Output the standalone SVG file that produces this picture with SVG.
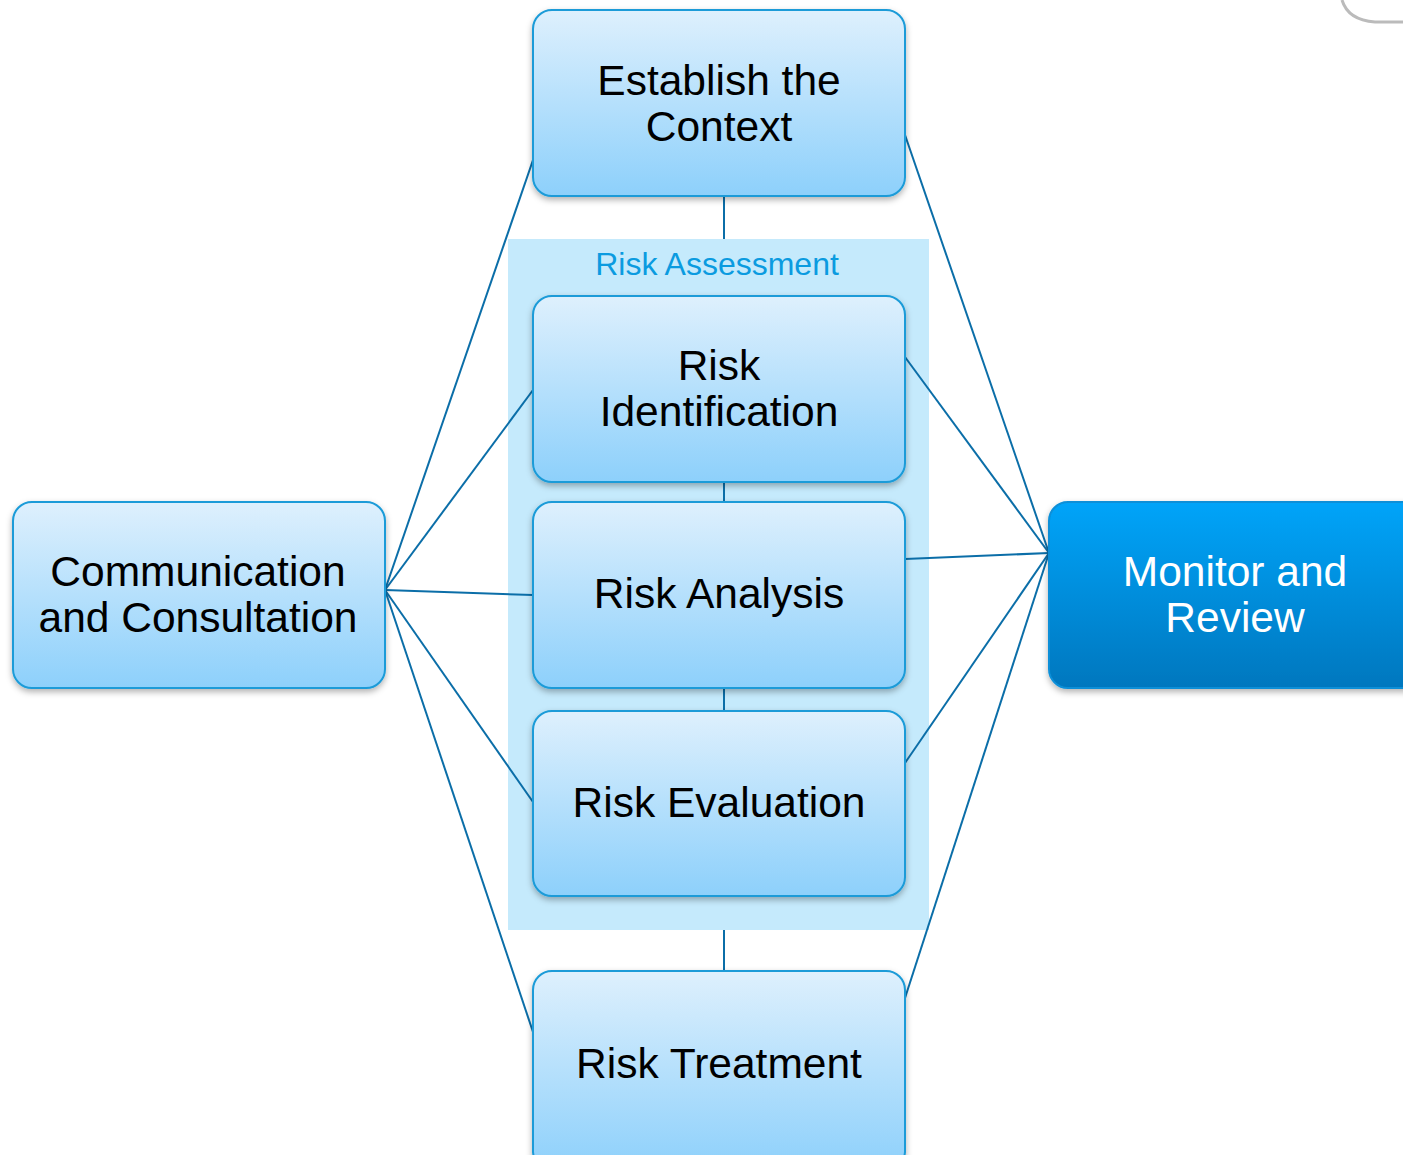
<svg xmlns="http://www.w3.org/2000/svg" width="1403" height="1155" viewBox="0 0 1403 1155">
<defs>
<linearGradient id="lg" x1="0" y1="0" x2="0" y2="1">
<stop offset="0" stop-color="#def0fd"/>
<stop offset="1" stop-color="#8dd0fb"/>
</linearGradient>
<linearGradient id="dg" x1="0" y1="0" x2="0" y2="1">
<stop offset="0" stop-color="#03a4f9"/>
<stop offset="1" stop-color="#0277be"/>
</linearGradient>
<filter id="sh" x="-10%" y="-10%" width="120%" height="130%">
<feDropShadow dx="0" dy="3" stdDeviation="3" flood-color="#000" flood-opacity="0.3"/>
</filter>
</defs>
<style>
.n{fill:url(#lg);stroke:#1a9bd8;stroke-width:2;filter:url(#sh)}
.d{fill:url(#dg);stroke:#0a8fd8;stroke-width:2;filter:url(#sh)}
.t{font-family:"Liberation Sans",Arial,sans-serif;font-size:42.5px;fill:#000;text-anchor:middle}
.w{fill:#fff}
.c line{stroke:#0b6ea8;stroke-width:2}
</style>
<rect width="1403" height="1155" fill="#fff"/>
<path d="M1342,0 Q1348,20 1375,22 L1403,22" fill="none" stroke="#bbb" stroke-width="3"/>
<g id="risk-assessment">
<rect x="508" y="239" width="421" height="691" fill="#c5eafc"/>
<text x="717" y="275" font-family="Liberation Sans,Arial,sans-serif" font-size="32" fill="#0b9be0" text-anchor="middle">Risk Assessment</text>
</g>
<g class="c" id="connectors">
<line x1="724" y1="196" x2="724" y2="239"/>
<line x1="724" y1="482" x2="724" y2="502"/>
<line x1="724" y1="688" x2="724" y2="711"/>
<line x1="724" y1="930" x2="724" y2="971"/>
<line x1="385" y1="590" x2="533" y2="160"/>
<line x1="385" y1="590" x2="533" y2="390"/>
<line x1="385" y1="590" x2="533" y2="595"/>
<line x1="385" y1="590" x2="533" y2="802"/>
<line x1="385" y1="590" x2="533" y2="1032"/>
<line x1="1049" y1="553" x2="905" y2="135"/>
<line x1="1049" y1="553" x2="905" y2="357"/>
<line x1="1049" y1="553" x2="905" y2="559"/>
<line x1="1049" y1="553" x2="905" y2="763"/>
<line x1="1049" y1="553" x2="905" y2="998"/>
</g>
<g id="establish">
<rect class="n" x="533" y="10" width="372" height="186" rx="19"/>
<text class="t" x="719" y="95">Establish the</text>
<text class="t" x="719" y="141">Context</text>
</g>
<g id="identification">
<rect class="n" x="533" y="296" width="372" height="186" rx="19"/>
<text class="t" x="719" y="380">Risk</text>
<text class="t" x="719" y="426">Identification</text>
</g>
<g id="analysis">
<rect class="n" x="533" y="502" width="372" height="186" rx="19"/>
<text class="t" x="719" y="608">Risk Analysis</text>
</g>
<g id="evaluation">
<rect class="n" x="533" y="711" width="372" height="185" rx="19"/>
<text class="t" x="719" y="817">Risk Evaluation</text>
</g>
<g id="treatment">
<rect class="n" x="533" y="971" width="372" height="200" rx="19"/>
<text class="t" x="719" y="1078">Risk Treatment</text>
</g>
<g id="communication">
<rect class="n" x="13" y="502" width="372" height="186" rx="19"/>
<text class="t" x="198" y="586">Communication</text>
<text class="t" x="198" y="632">and Consultation</text>
</g>
<g id="monitor">
<rect class="d" x="1049" y="502" width="380" height="186" rx="19"/>
<text class="t w" x="1235" y="586">Monitor and</text>
<text class="t w" x="1235" y="632">Review</text>
</g>
</svg>
